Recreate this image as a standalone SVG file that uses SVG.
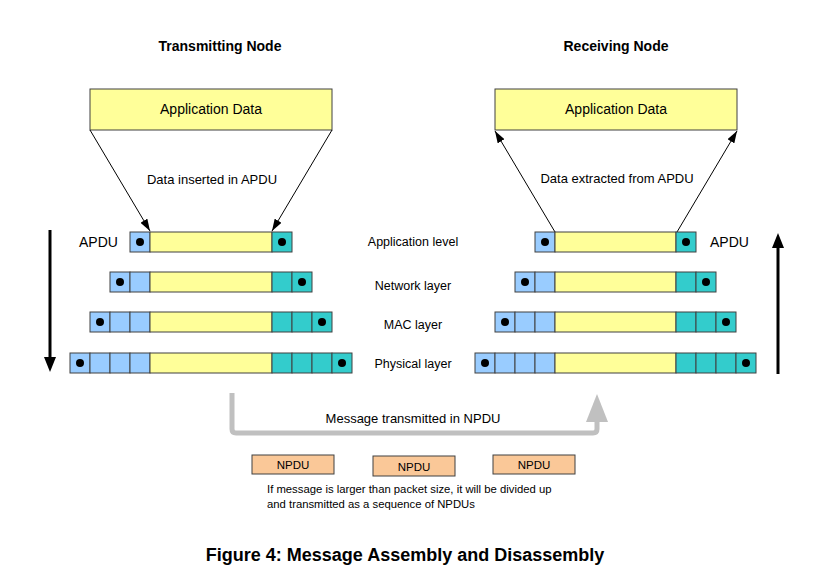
<svg xmlns="http://www.w3.org/2000/svg" width="828" height="574" viewBox="0 0 828 574">
<defs>
<style>
text{font-family:"Liberation Sans",Arial,sans-serif;fill:#000}
.b{font-weight:bold}
.app{fill:#ffff99;stroke:#404040;stroke-width:1}
.bl{fill:#99ccff;stroke:#404040;stroke-width:1}
.ye{fill:#ffff99;stroke:#404040;stroke-width:1}
.te{fill:#33cccc;stroke:#404040;stroke-width:1}
.np{fill:#fac898;stroke:#404040;stroke-width:1}
.dot{fill:#000}
.thin{stroke:#000;stroke-width:1;fill:none;marker-end:url(#ah)}
.big{stroke:#000;stroke-width:3;fill:none}
</style>
<marker id="ah" viewBox="0 0 12 8" refX="12" refY="4" markerWidth="12" markerHeight="8" markerUnits="userSpaceOnUse" orient="auto">
<path d="M0,0 L12,4 L0,8 Z" fill="#000"/>
</marker>
</defs>
<rect width="828" height="574" fill="#fff"/>

<text class="b" x="220" y="51" font-size="14" text-anchor="middle">Transmitting Node</text>
<text class="b" x="616" y="51" font-size="14" text-anchor="middle">Receiving Node</text>

<g id="tx-appdata">
<rect class="app" x="90" y="89" width="242" height="41"/>
<text x="211" y="114" font-size="14" text-anchor="middle">Application Data</text>
</g>
<g id="rx-appdata">
<rect class="app" x="495" y="89" width="242" height="41"/>
<text x="616" y="114" font-size="14" text-anchor="middle">Application Data</text>
</g>

<g id="connectors">
<line class="thin" x1="90" y1="130" x2="150" y2="231"/>
<line class="thin" x1="332" y1="130" x2="272" y2="231"/>
<line class="thin" x1="555" y1="232" x2="495" y2="131"/>
<line class="thin" x1="677" y1="232" x2="737" y2="131"/>
<line class="big" x1="50" y1="230" x2="50" y2="358"/>
<path d="M44,357 L56,357 L50,372 Z" fill="#000"/>
<line class="big" x1="778" y1="374" x2="778" y2="247"/>
<path d="M772,248 L784,248 L778,233 Z" fill="#000"/>
<path d="M232,393 L232,429 Q232,433 236,433 L593,433 Q597,433 597,429 L597,420" fill="none" stroke="#c0c0c0" stroke-width="5"/>
<path d="M586,422 L608,422 L597,394 Z" fill="#c0c0c0"/>
</g>

<text x="212" y="184" font-size="13" text-anchor="middle">Data inserted in APDU</text>
<text x="617" y="183" font-size="13" text-anchor="middle">Data extracted from APDU</text>

<text x="79" y="247" font-size="14">APDU</text>
<text x="710" y="247" font-size="14">APDU</text>

<g id="layer-labels">
<text x="413" y="246" font-size="12.5" text-anchor="middle">Application level</text>
<text x="413" y="290" font-size="12.5" text-anchor="middle">Network layer</text>
<text x="413" y="329" font-size="12.5" text-anchor="middle">MAC layer</text>
<text x="413" y="368" font-size="12.5" text-anchor="middle">Physical layer</text>
</g>

<!-- Transmitting stack -->
<g id="tx-apdu">
<rect class="bl" x="130" y="232" width="20" height="20"/>
<rect class="ye" x="150" y="232" width="122" height="20"/>
<rect class="te" x="272" y="232" width="20" height="20"/>
<circle class="dot" cx="140" cy="242" r="4"/><circle class="dot" cx="282" cy="242" r="4"/>
</g>
<g id="tx-network">
<rect class="bl" x="110" y="272" width="20" height="20"/><rect class="bl" x="130" y="272" width="20" height="20"/>
<rect class="ye" x="150" y="272" width="122" height="20"/>
<rect class="te" x="272" y="272" width="20" height="20"/><rect class="te" x="292" y="272" width="20" height="20"/>
<circle class="dot" cx="120" cy="282" r="4"/><circle class="dot" cx="302" cy="282" r="4"/>
</g>
<g id="tx-mac">
<rect class="bl" x="90" y="312" width="20" height="20"/><rect class="bl" x="110" y="312" width="20" height="20"/><rect class="bl" x="130" y="312" width="20" height="20"/>
<rect class="ye" x="150" y="312" width="122" height="20"/>
<rect class="te" x="272" y="312" width="20" height="20"/><rect class="te" x="292" y="312" width="20" height="20"/><rect class="te" x="312" y="312" width="20" height="20"/>
<circle class="dot" cx="100" cy="322" r="4"/><circle class="dot" cx="322" cy="322" r="4"/>
</g>
<g id="tx-physical">
<rect class="bl" x="70" y="353" width="20" height="20"/><rect class="bl" x="90" y="353" width="20" height="20"/><rect class="bl" x="110" y="353" width="20" height="20"/><rect class="bl" x="130" y="353" width="20" height="20"/>
<rect class="ye" x="150" y="353" width="122" height="20"/>
<rect class="te" x="272" y="353" width="20" height="20"/><rect class="te" x="292" y="353" width="20" height="20"/><rect class="te" x="312" y="353" width="20" height="20"/><rect class="te" x="332" y="353" width="20" height="20"/>
<circle class="dot" cx="80" cy="363" r="4"/><circle class="dot" cx="342" cy="363" r="4"/>
</g>

<!-- Receiving stack -->
<g id="rx-apdu">
<rect class="bl" x="535" y="232" width="20" height="20"/>
<rect class="ye" x="555" y="232" width="121" height="20"/>
<rect class="te" x="676" y="232" width="20" height="20"/>
<circle class="dot" cx="545" cy="242" r="4"/><circle class="dot" cx="686" cy="242" r="4"/>
</g>
<g id="rx-network">
<rect class="bl" x="515" y="272" width="20" height="20"/><rect class="bl" x="535" y="272" width="20" height="20"/>
<rect class="ye" x="555" y="272" width="121" height="20"/>
<rect class="te" x="676" y="272" width="20" height="20"/><rect class="te" x="696" y="272" width="20" height="20"/>
<circle class="dot" cx="525" cy="282" r="4"/><circle class="dot" cx="706" cy="282" r="4"/>
</g>
<g id="rx-mac">
<rect class="bl" x="495" y="312" width="20" height="20"/><rect class="bl" x="515" y="312" width="20" height="20"/><rect class="bl" x="535" y="312" width="20" height="20"/>
<rect class="ye" x="555" y="312" width="121" height="20"/>
<rect class="te" x="676" y="312" width="20" height="20"/><rect class="te" x="696" y="312" width="20" height="20"/><rect class="te" x="716" y="312" width="20" height="20"/>
<circle class="dot" cx="505" cy="322" r="4"/><circle class="dot" cx="726" cy="322" r="4"/>
</g>
<g id="rx-physical">
<rect class="bl" x="475" y="353" width="20" height="20"/><rect class="bl" x="495" y="353" width="20" height="20"/><rect class="bl" x="515" y="353" width="20" height="20"/><rect class="bl" x="535" y="353" width="20" height="20"/>
<rect class="ye" x="555" y="353" width="121" height="20"/>
<rect class="te" x="676" y="353" width="20" height="20"/><rect class="te" x="696" y="353" width="20" height="20"/><rect class="te" x="716" y="353" width="20" height="20"/><rect class="te" x="736" y="353" width="20" height="20"/>
<circle class="dot" cx="485" cy="363" r="4"/><circle class="dot" cx="746" cy="363" r="4"/>
</g>

<text x="413" y="423" font-size="13" text-anchor="middle">Message transmitted in NPDU</text>

<g id="npdu1"><rect class="np" x="252" y="455" width="82" height="19"/><text x="293" y="469" font-size="11.5" text-anchor="middle">NPDU</text></g>
<g id="npdu2"><rect class="np" x="373" y="456" width="82" height="20"/><text x="414" y="471" font-size="11.5" text-anchor="middle">NPDU</text></g>
<g id="npdu3"><rect class="np" x="493" y="455" width="82" height="19"/><text x="534" y="469" font-size="11.5" text-anchor="middle">NPDU</text></g>

<text x="267" y="493" font-size="11.3">If message is larger than packet size, it will be divided up</text>
<text x="267" y="508" font-size="11.3">and transmitted as a sequence of NPDUs</text>

<text class="b" x="405" y="561" font-size="18" text-anchor="middle">Figure 4: Message Assembly and Disassembly</text>
</svg>
